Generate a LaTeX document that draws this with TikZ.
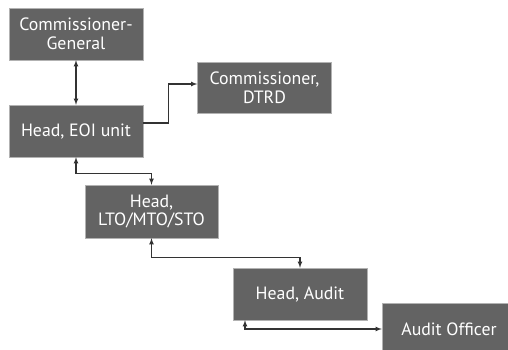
\documentclass[tikz,border=0pt]{standalone}
\usepackage{fontspec}
\setmainfont{PT Sans}
\usetikzlibrary{positioning}

\begin{document}
\begin{tikzpicture}[>=latex,
					x=1pt, y=1pt,
					post/.style = {fill=black!61, draw=black!30, text=white, align=center,
						minimum width=134pt, minimum height=52pt, inner sep=2pt,
						font=\fontsize{17.8}{18.5}\selectfont},
					link/.style = {draw=black!80, line width=1.1pt},
				]

				\clip (0,0) rectangle (508,350);

				\node[post] (cg) at (76,316) {Commissioner-\\General};
				\node[post] (eoi) at (76,219) {Head, EOI unit};
				\node[post, minimum height=51pt] (dtrd) at (264.5,262.5) {Commissioner,\\DTRD};
				\node[post, minimum width=133pt, minimum height=53pt] (lto) at (151.5,138.5) {Head,\\LTO/MTO/STO};
				\node[post] (audit) at (300,56) {Head, Audit};
				\node[post] (officer) at (449,21) {Audit Officer};

				% reporting lines
				\draw[link, <->] (cg) -- (eoi);
				\draw[link, ->] ([yshift=8]eoi.east) -- ++(25,0) |- ([yshift=3.5]dtrd.west);
				\draw[link, <->] (eoi.south) -- ++(0,-16) -| (lto.north);
				\draw[link, <->] (lto.south) -- ++(0,-19) -| (audit.north);
				\draw[link, <->] ([xshift=-55]audit.south) |- (officer.west);
			\end{tikzpicture}
\end{document}
